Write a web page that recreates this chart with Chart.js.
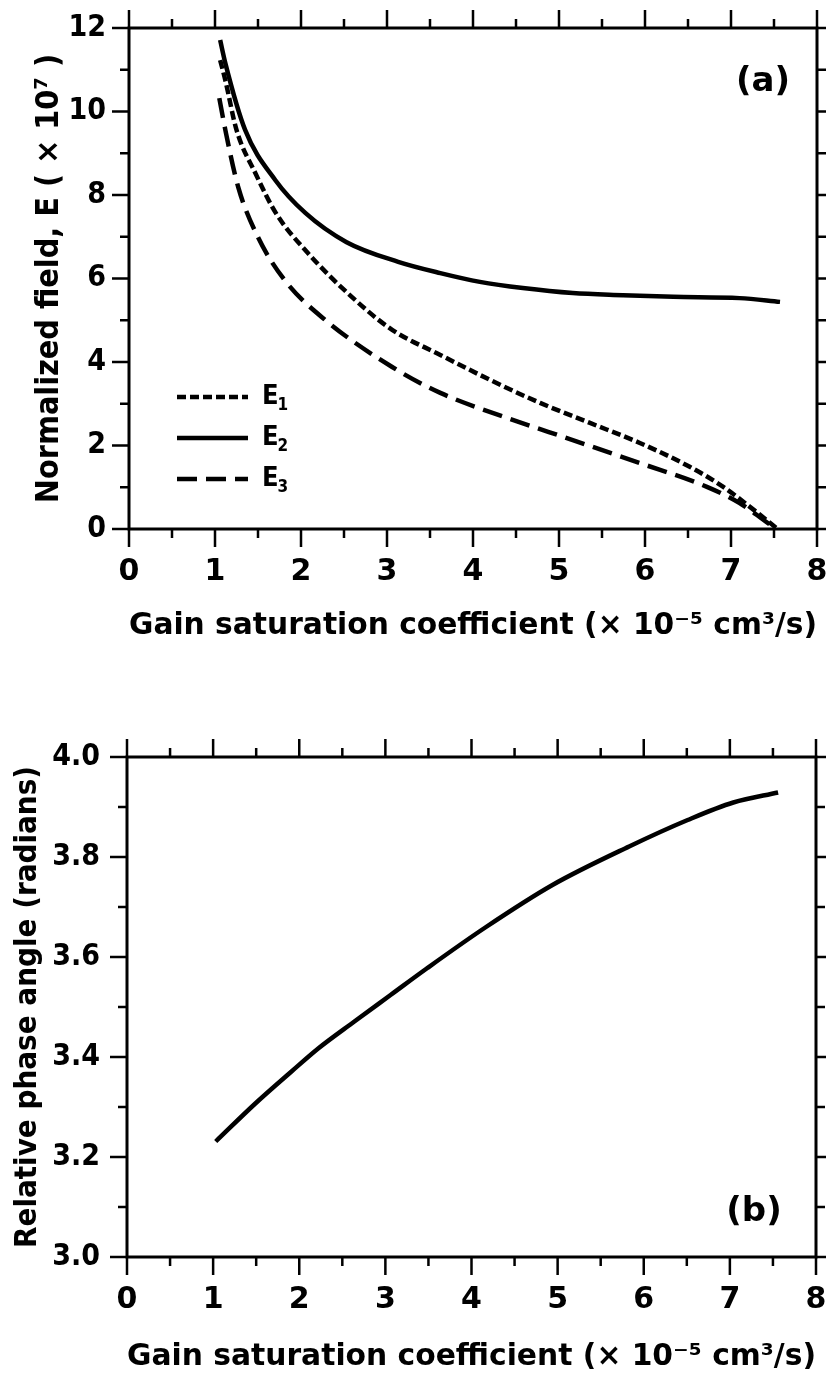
<!DOCTYPE html>
<html lang="en">
<head>
<meta charset="UTF-8">
<title>Gain saturation coefficient: field and phase</title>
<style>
    html, body { margin: 0; padding: 0; background: #fff; }
    .panel { position: absolute; left: 0; }
    .panel canvas { display: block; }
    #panelA { top: 0; }
    #panelB { top: 690px; }
</style>
</head>
<body>
<div class="panel" id="panelA"><canvas id="fieldChart" width="826" height="690"></canvas></div>
<div class="panel" id="panelB"><canvas id="phaseChart" width="826" height="691"></canvas></div>

<script src="https://cdn.jsdelivr.net/npm/chart.js"></script>
<script>
    // (a) normalized fields E1, E2, E3 (x 10^7)
    const e1X = [1.06, 1.12, 1.25, 1.47, 1.71, 2.08, 2.59, 3.06, 3.62, 4.20, 4.78, 5.36, 5.94, 6.52, 6.91, 7.22, 7.53];
    const e1Y = [11.23, 10.75, 9.56, 8.52, 7.56, 6.61, 5.56, 4.77, 4.17, 3.57, 3.02, 2.54, 2.06, 1.49, 1.01, 0.53, 0.02];

    const e2X = [1.06, 1.12, 1.35, 1.70, 2.05, 2.53, 3.13, 3.62, 4.08, 4.58, 5.16, 5.74, 6.33, 7.10, 7.57];
    const e2Y = [11.71, 11.16, 9.56, 8.36, 7.57, 6.87, 6.40, 6.13, 5.92, 5.77, 5.65, 5.60, 5.56, 5.53, 5.44];

    const e3X = [1.05, 1.12, 1.27, 1.50, 1.81, 2.28, 3.06, 3.62, 4.40, 5.16, 5.94, 6.72, 7.10, 7.49];
    const e3Y = [10.32, 9.56, 8.19, 6.99, 5.96, 5.01, 3.88, 3.26, 2.66, 2.13, 1.58, 1.01, 0.62, 0.05];

    // (b) relative phase angle (radians)
    const phaseX = [1.03, 1.49, 1.91, 2.22, 2.64, 3.06, 3.48, 4.16, 4.94, 5.83, 6.51, 7.04, 7.56];
    const phaseY = [3.231, 3.307, 3.371, 3.417, 3.471, 3.524, 3.577, 3.659, 3.744, 3.821, 3.874, 3.909, 3.929];

    const xTitle = 'Gain saturation coefficient (\u00d7 10\u207b\u2075 cm\u00b3/s)';
    const fieldTitle = 'Normalized field, E ( \u00d7 10\u2077 )';
    const phaseTitle = 'Relative phase angle (radians)';

    const WIDE = "'DejaVu Sans', sans-serif";
    const NARROW = "'DejaVu Sans Condensed', 'DejaVu Sans', sans-serif";
    Chart.defaults.font.family = WIDE;
    Chart.defaults.font.weight = 'bold';
    Chart.defaults.color = '#000';

    const toPoints = (xs, ys) => xs.map((x, i) => ({ x: x, y: ys[i] }));
    const SUBS = { '\u2081': '1', '\u2082': '2', '\u2083': '3' };

    function onStep(v, step) {
        const r = v / step;
        return Math.abs(r - Math.round(r)) < 1e-6;
    }

    // frame with outward major/minor ticks on all four sides, plus legend and panel tag
    const boxTicks = {
        id: 'boxTicks',
        afterDraw(chart, args, opts) {
            const { ctx, chartArea: a, scales: { x, y } } = chart;
            ctx.save();
            ctx.strokeStyle = '#000';
            ctx.lineWidth = 2.5;
            ctx.beginPath();
            for (let i = 0; ; i++) {
                const v = x.min + i * opts.xMinor;
                if (v > x.max + 1e-9) break;
                const px = x.getPixelForValue(v);
                const len = onStep(v, opts.xMajor) ? 18 : 9;
                ctx.moveTo(px, a.bottom); ctx.lineTo(px, a.bottom + len);
                ctx.moveTo(px, a.top); ctx.lineTo(px, a.top - len);
            }
            for (let i = 0; ; i++) {
                const v = y.min + i * opts.yMinor;
                if (v > y.max + 1e-9) break;
                const py = y.getPixelForValue(v);
                const len = onStep(v, opts.yMajor) ? 17 : 9;
                ctx.moveTo(a.left, py); ctx.lineTo(a.left - len, py);
                ctx.moveTo(a.right, py); ctx.lineTo(a.right + len, py);
            }
            ctx.stroke();

            ctx.lineWidth = 3;
            ctx.strokeRect(a.left, a.top, a.right - a.left, a.bottom - a.top);

            ctx.fillStyle = '#000';
            ctx.textBaseline = 'middle';
            ctx.textAlign = 'center';
            ctx.font = 'bold 34px ' + WIDE;
            ctx.fillText(opts.tag.text, opts.tag.x, opts.tag.y);

            if (opts.legend) {
                const lg = opts.legend;
                ctx.textAlign = 'left';
                chart.data.datasets.forEach((ds, i) => {
                    const ly = lg.y + i * lg.gap;
                    ctx.lineWidth = ds.borderWidth;
                    ctx.setLineDash(ds.borderDash || []);
                    ctx.beginPath();
                    ctx.moveTo(lg.x, ly);
                    ctx.lineTo(lg.x + lg.len, ly);
                    ctx.stroke();
                    ctx.setLineDash([]);
                    // "E" with a lowered index digit
                    const base = ds.label.charAt(0);
                    const sub = SUBS[ds.label.charAt(1)] || '';
                    const tx = lg.x + lg.len + 14;
                    ctx.font = 'bold 27px ' + NARROW;
                    ctx.fillText(base, tx, ly);
                    const bw = ctx.measureText(base).width;
                    ctx.font = 'bold 17px ' + NARROW;
                    ctx.fillText(sub, tx + bw - 1, ly + 9);
                });
            }
            ctx.restore();
        }
    };

    // fixed axis box sizes, no extra label padding around the plot area
    function fixBox(s, w, h) {
        if (w !== null) s.width = w;
        if (h !== null) s.height = h;
        s.paddingLeft = s.paddingRight = s.paddingTop = s.paddingBottom = 0;
    }

    function axisX(height, pad, titlePad) {
        return {
            type: 'linear', min: 0, max: 8,
            grid: { display: false, drawTicks: false }, border: { display: false },
            ticks: { stepSize: 1, padding: pad, font: { size: 30 } },
            title: { display: true, text: xTitle, font: { size: 30 }, padding: { top: 0, bottom: titlePad } },
            afterFit: s => fixBox(s, null, height)
        };
    }

    // Normalized field chart
    const fieldCtx = document.getElementById('fieldChart').getContext('2d');
    const fieldChart = new Chart(fieldCtx, {
        type: 'line',
        data: {
            datasets: [
                { label: 'E\u2081', data: toPoints(e1X, e1Y), borderColor: '#000', borderWidth: 4.5, borderDash: [9, 4], pointRadius: 0, fill: false, cubicInterpolationMode: 'monotone' },
                { label: 'E\u2082', data: toPoints(e2X, e2Y), borderColor: '#000', borderWidth: 4.5, pointRadius: 0, fill: false, cubicInterpolationMode: 'monotone' },
                { label: 'E\u2083', data: toPoints(e3X, e3Y), borderColor: '#000', borderWidth: 4.5, borderDash: [20, 9], pointRadius: 0, fill: false, cubicInterpolationMode: 'monotone' }
            ]
        },
        options: {
            responsive: false,
            animation: false,
            layout: { padding: { top: 28, right: 9, left: 0, bottom: 0 } },
            plugins: {
                legend: { display: false },
                tooltip: { enabled: false },
                boxTicks: {
                    xMajor: 1, xMinor: 0.5, yMajor: 2, yMinor: 1,
                    tag: { text: '(a)', x: 763, y: 82 },
                    legend: { x: 177, y: 397, gap: 41, len: 71 }
                }
            },
            scales: {
                x: axisX(161, 25, 46),
                y: {
                    type: 'linear', min: 0, max: 12,
                    grid: { display: false, drawTicks: false }, border: { display: false },
                    ticks: { stepSize: 2, padding: 23, font: { size: 30, family: NARROW } },
                    title: { display: true, text: fieldTitle, font: { size: 32, family: NARROW }, padding: { top: 30, bottom: 0 } },
                    afterFit: s => fixBox(s, 129, null)
                }
            }
        },
        plugins: [boxTicks]
    });

    // Relative phase chart
    const phaseCtx = document.getElementById('phaseChart').getContext('2d');
    const phaseChart = new Chart(phaseCtx, {
        type: 'line',
        data: {
            datasets: [
                { label: 'Phase', data: toPoints(phaseX, phaseY), borderColor: '#000', borderWidth: 4.5, pointRadius: 0, fill: false, cubicInterpolationMode: 'monotone' }
            ]
        },
        options: {
            responsive: false,
            animation: false,
            layout: { padding: { top: 67, right: 10, left: 0, bottom: 0 } },
            plugins: {
                legend: { display: false },
                tooltip: { enabled: false },
                boxTicks: {
                    xMajor: 1, xMinor: 0.5, yMajor: 0.2, yMinor: 0.1,
                    tag: { text: '(b)', x: 754, y: 522 }
                }
            },
            scales: {
                x: axisX(124, 25, 6),
                y: {
                    type: 'linear', min: 3.0, max: 4.0,
                    grid: { display: false, drawTicks: false }, border: { display: false },
                    ticks: { stepSize: 0.2, padding: 27, font: { size: 30, family: NARROW }, callback: v => v.toFixed(1) },
                    title: { display: true, text: phaseTitle, font: { size: 31, family: NARROW }, padding: { top: 9, bottom: 0 } },
                    afterFit: s => fixBox(s, 127, null)
                }
            }
        },
        plugins: [boxTicks]
    });
</script>
</body>
</html>
